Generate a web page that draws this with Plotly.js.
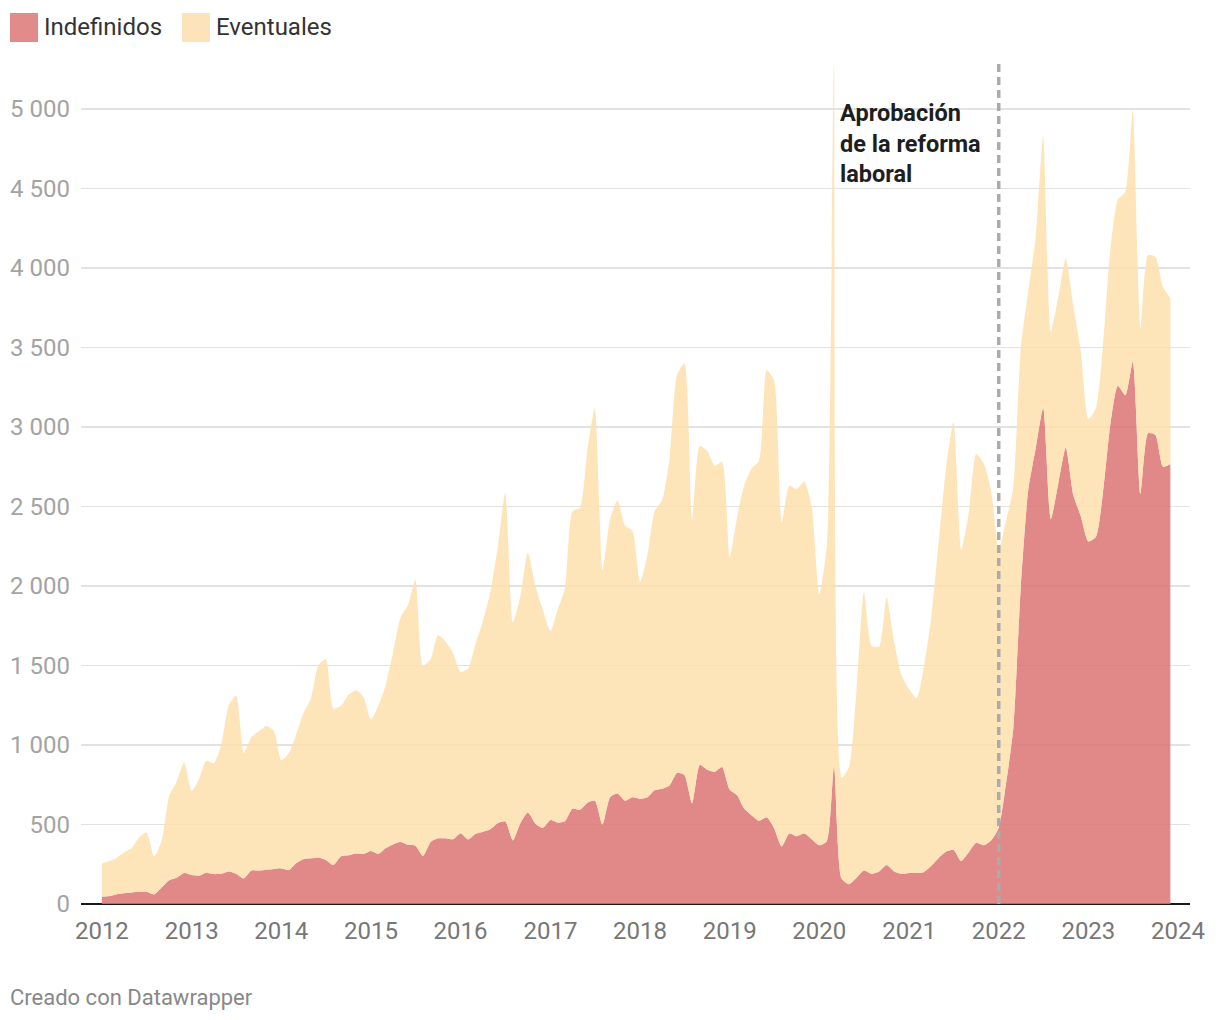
<!DOCTYPE html>
<html>
<head>
<meta charset="utf-8">
<script src="https://cdn.plot.ly/plotly-3.0.1.min.js"></script>
<style>
  html, body { margin: 0; padding: 0; background: #ffffff; }
  #chart { width: 1220px; height: 1020px; }
</style>
</head>
<body>
<div id="chart"></div>
<script>
// ---- Data (monthly, Jan 2012 – Dec 2023) ----
const startYear = 2012;
const years = ["2012","2013","2014","2015","2016","2017","2018","2019","2020","2021","2022","2023","2024"];

const indefinidos = [
  45, 50, 62, 68, 72, 77, 77, 60, 105, 150, 165, 195,
  182, 178, 197, 188, 190, 205, 190, 160, 210, 210, 215, 220,
  224, 214, 255, 282, 287, 293, 277, 245, 300, 306, 318, 314,
  333, 314, 350, 375, 390, 372, 367, 302, 390, 413, 413, 407,
  445, 405, 440, 455, 470, 510, 520, 400, 510, 575, 505, 478,
  528, 511, 520, 600, 592, 637, 650, 500, 672, 695, 650, 672,
  662, 672, 715, 725, 745, 825, 810, 633, 875, 845, 832, 862,
  720, 683, 600, 557, 523, 546, 477, 362, 443, 426, 443, 408,
  370, 395, 865, 160, 125, 165, 210, 190, 205, 245, 205, 190,
  195, 195, 200, 240, 290, 330, 340, 270, 325, 385, 370, 400,
  480, 770, 1100, 2000, 2600, 2870, 3120, 2420, 2650, 2870, 2570, 2440,
  2280, 2310, 2580, 3020, 3260, 3200, 3410, 2580, 2960, 2950, 2750, 2765
];

const eventuales = [
  210, 220, 228, 257, 278, 343, 373, 240, 295, 530, 605, 695,
  528, 612, 703, 697, 810, 1045, 1120, 790, 840, 875, 905, 870,
  681, 736, 805, 918, 1003, 1207, 1263, 985, 945, 1009, 1027, 991,
  827, 936, 1020, 1205, 1410, 1508, 1673, 1198, 1150, 1277, 1237, 1173,
  1015, 1075, 1190, 1325, 1490, 1740, 2070, 1370, 1430, 1635, 1495, 1372,
  1187, 1349, 1465, 1870, 1898, 2223, 2470, 1600, 1748, 1845, 1730, 1673,
  1363, 1528, 1755, 1815, 2055, 2505, 2590, 1787, 2005, 2005, 1925, 1918,
  1460, 1757, 2030, 2183, 2267, 2814, 2813, 2038, 2187, 2184, 2212, 2092,
  1580, 1865, 4420, 635, 735, 1185, 1750, 1435, 1415, 1685, 1445, 1250,
  1155, 1100, 1280, 1560, 1980, 2420, 2690, 1960, 2135, 2445, 2400, 2200,
  1750, 1650, 1520, 1500, 1250, 1330, 1710, 1180, 1170, 1190, 1190, 1040,
  770, 810, 920, 1100, 1170, 1280, 1580, 1040, 1120, 1120, 1130, 1045
];

const seriesNames = ["Indefinidos", "Eventuales"];
const seriesColors = ["rgba(220,118,118,0.86)", "rgba(253,223,174,0.86)"];
const legendColors = ["#e18b8b", "#fde3ba"];
const yTickVals = [0, 500, 1000, 1500, 2000, 2500, 3000, 3500, 4000, 4500, 5000];
const reformDate = "2022-01-01";
const annotationText = "Aprobación<br>de la reforma<br>laboral";
const footerText = "Creado con Datawrapper";

// month dates
const dates = indefinidos.map((_, i) => {
  const y = startYear + Math.floor(i / 12);
  const m = (i % 12) + 1;
  return y + "-" + String(m).padStart(2, "0") + "-01";
});

// ---- Layout geometry (pixels) ----
const W = 1220, H = 1020;
const L = 81, R = 1190, T = 60, B = 904;
const PW = R - L, PH = B - T;
const px = p => (p - L) / PW;     // pixel x -> paper
const py = p => (B - p) / PH;     // pixel y -> paper

const traces = [
  {
    x: dates, y: indefinidos, name: seriesNames[0],
    type: "scatter", mode: "lines", stackgroup: "one",
    line: { width: 0, shape: "spline", smoothing: 0.6 },
    fillcolor: seriesColors[0], hoverinfo: "x+y"
  },
  {
    x: dates, y: eventuales, name: seriesNames[1],
    type: "scatter", mode: "lines", stackgroup: "one",
    line: { width: 0, shape: "spline", smoothing: 0.6 },
    fillcolor: seriesColors[1], hoverinfo: "x+y"
  }
];

const shapes = [
  // reform dashed line
  { type: "line", xref: "x", yref: "paper", x0: reformDate, x1: reformDate, y0: 0, y1: 1,
    line: { color: "#ababab", width: 3.5, dash: "8px,5px" } },
  // legend swatches
  { type: "rect", xref: "paper", yref: "paper", x0: px(10), x1: px(38), y0: py(42), y1: py(13),
    fillcolor: legendColors[0], line: { width: 0 } },
  { type: "rect", xref: "paper", yref: "paper", x0: px(182), x1: px(210), y0: py(42), y1: py(13),
    fillcolor: legendColors[1], line: { width: 0 } }
];

const annotations = [
  { xref: "paper", yref: "paper", x: px(42), y: py(27), xanchor: "left", yanchor: "middle",
    text: seriesNames[0], showarrow: false, font: { family: "Roboto", size: 24, color: "#333333" } },
  { xref: "paper", yref: "paper", x: px(214), y: py(27), xanchor: "left", yanchor: "middle",
    text: seriesNames[1], showarrow: false, font: { family: "Roboto", size: 24, color: "#333333" } },
  { xref: "paper", yref: "paper", x: px(838), y: py(143), xanchor: "left", yanchor: "middle", align: "left",
    text: "<b>" + annotationText + "</b>", showarrow: false,
    font: { family: "Roboto", size: 23.5, color: "#1e1e1e" } },
  { xref: "paper", yref: "paper", x: px(8), y: py(997), xanchor: "left", yanchor: "middle",
    text: footerText, showarrow: false, font: { family: "Roboto", size: 22, color: "#888888" } }
];

const layout = {
  width: W, height: H,
  margin: { l: L, r: W - R, t: T, b: H - B, pad: 0 },
  paper_bgcolor: "#ffffff", plot_bgcolor: "#ffffff",
  showlegend: false,
  separators: ", ",
  font: { family: "Roboto", size: 24, color: "#777777" },
  xaxis: {
    type: "date",
    range: ["2011-10-08", "2024-02-19"],
    tickvals: years.map(y => y + "-01-01"),
    ticktext: years,
    showgrid: false, zeroline: false, showline: false,
    ticks: "", ticklabelstandoff: 10,
    tickfont: { family: "Roboto", size: 24, color: "#777777" },
    fixedrange: true
  },
  yaxis: {
    range: [0, (B - T) / 795 * 5000],
    tickvals: yTickVals,
    tickformat: ",d",
    showgrid: true, gridcolor: "#e2e2e2", gridwidth: 1.5,
    zeroline: true, zerolinecolor: "#1a1a1a", zerolinewidth: 2.5,
    showline: false, ticks: "", ticklabelstandoff: 10,
    tickfont: { family: "Roboto", size: 24, color: "#a3a3a3" },
    fixedrange: true
  },
  shapes: shapes,
  annotations: annotations
};

Plotly.newPlot("chart", traces, layout, { displayModeBar: false, staticPlot: true });
</script>
</body>
</html>
